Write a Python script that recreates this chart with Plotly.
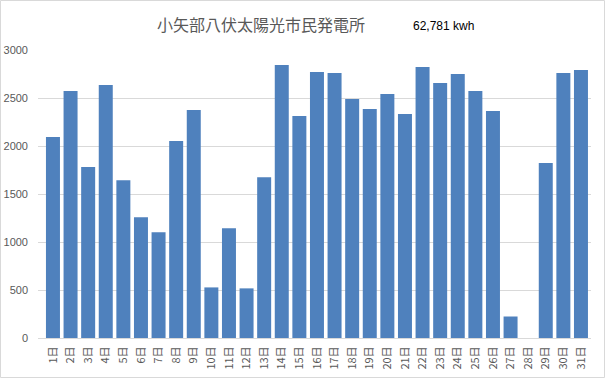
import plotly.graph_objects as go

days = [f"{i}日" for i in range(1, 32)]
values = [2094, 2573, 1780, 2635, 1644, 1258, 1101, 2052, 2375, 527,
          1143, 517, 1675, 2844, 2313, 2772, 2761, 2490, 2386, 2542,
          2333, 2824, 2657, 2751, 2573, 2365, 224, 0, 1822, 2761, 2792]
title_text = "小矢部八伏太陽光市民発電所"
total_text = "62,781 kwh"
y_ticks = [0, 500, 1000, 1500, 2000, 2500, 3000]

W, H = 605, 378
L, R, T, B = 38, 14, 50, 40
pw, ph = W - L - R, H - T - B

def px_x(p):
    return (p - L) / pw

def px_y(p):
    return (H - B - p) / ph

fig = go.Figure(go.Bar(x=days, y=values, marker_color="#4f81bd", marker_line_width=0))

fig.update_layout(
    width=W, height=H,
    margin=dict(l=L, r=R, t=T, b=B, autoexpand=False),
    paper_bgcolor="white", plot_bgcolor="white",
    bargap=0.205,
    showlegend=False,
    font=dict(family="Noto Sans CJK JP, Liberation Sans, sans-serif", color="#595959", size=11),
    xaxis=dict(tickangle=-90, showgrid=False, showline=True, linecolor="#d9d9d9",
               tickfont=dict(size=11, color="#595959"), ticks="", ticklen=0,
               automargin=False, ticklabelstandoff=3, range=[-0.85, 30.57]),
    yaxis=dict(range=[0, 3000], tickvals=y_ticks, showgrid=True, gridcolor="#d9d9d9",
               zeroline=False, tickfont=dict(size=11, color="#595959", family="Liberation Sans, sans-serif"),
               ticks="", ticklabelstandoff=9, automargin=False),
    annotations=[
        dict(text=title_text, x=px_x(261), y=px_y(24), xref="paper", yref="paper",
             showarrow=False, xanchor="center", yanchor="middle",
             font=dict(size=16, color="#595959", family="Noto Sans CJK JP")),
        dict(text=total_text, x=px_x(443), y=px_y(26), xref="paper", yref="paper",
             showarrow=False, xanchor="center", yanchor="middle",
             font=dict(size=12, color="#000000", family="Liberation Sans, sans-serif")),
    ],
    shapes=[
        dict(type="rect", xref="paper", yref="paper",
             x0=px_x(0.5), x1=px_x(604.5), y0=px_y(377.5), y1=px_y(0.5),
             line=dict(color="#d9d9d9", width=1), fillcolor="rgba(0,0,0,0)", layer="below"),
    ],
)

fig.write_html("out.html", config={"displayModeBar": False},
               post_script="document.body.style.margin='0';")
